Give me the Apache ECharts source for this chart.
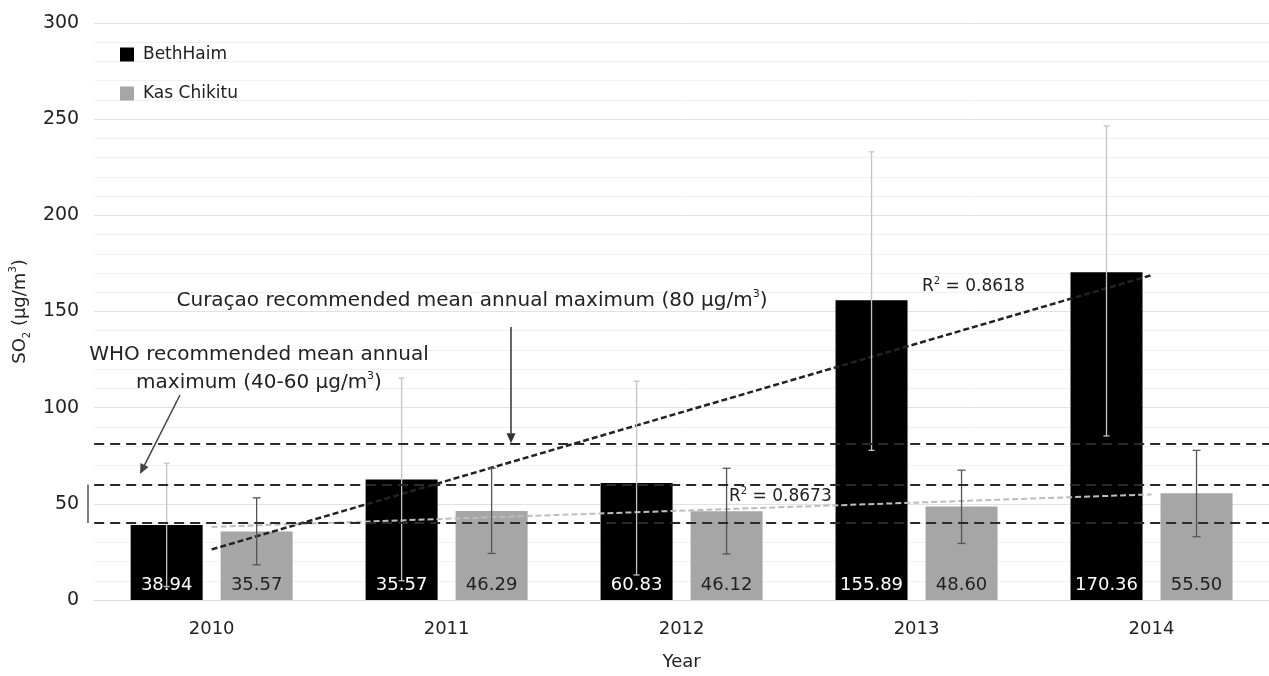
<!DOCTYPE html>
<html>
<head>
<meta charset="utf-8">
<script src="https://cdn.jsdelivr.net/npm/echarts@6/dist/echarts.min.js"></script>
<style>
  html, body { margin: 0; padding: 0; background: #fff; }
  #main { width: 1269px; height: 676px; }
</style>
</head>
<body>
<div id="main"></div>
<script>
// data
var years = ['2010', '2011', '2012', '2013', '2014'];
var bethHaim = [38.94, 62.7, 60.83, 155.89, 170.36];
var kasChikitu = [35.57, 46.29, 46.12, 48.60, 55.50];
// labels as printed on the bars (2011 label differs from bar height in the original)
var bethLabels = ['38.94', '35.57', '60.83', '155.89', '170.36'];
var kasLabels = ['35.57', '46.29', '46.12', '48.60', '55.50'];
// error bars [low, high]
var bethErr = [[7, 71.1], [10, 115.4], [13, 113.8], [77.8, 233], [85.3, 246.5]];
var kasErr = [[18.3, 53.1], [24.2, 68.5], [23.9, 68.5], [29.4, 67.5], [32.9, 77.8]];
// trend line ends (2010 -> 2014)
var bethTrend = [26.3, 168.9];
var kasTrend = [38.0, 54.9];
var limits = [40, 60, 81];

var FONT = "'DejaVu Sans', 'Liberation Sans', sans-serif";
var chart = echarts.init(document.getElementById('main'));

function errorSeries(name, err, off, color, cap) {
  return {
    type: 'custom',
    name: name,
    z: 4,
    silent: true,
    data: err.map(function (e, i) { return [i, e[0], e[1]]; }),
    encode: { x: 0, y: [1, 2] },
    renderItem: function (params, api) {
      var lo = api.coord([api.value(0), api.value(1)]);
      var hi = api.coord([api.value(0), api.value(2)]);
      var x = lo[0] + off;
      var st = { stroke: color, lineWidth: 1.3 };
      return {
        type: 'group',
        children: [
          { type: 'line', shape: { x1: x, y1: lo[1], x2: x, y2: hi[1] }, style: st },
          { type: 'line', shape: { x1: x - cap, y1: lo[1], x2: x + cap, y2: lo[1] }, style: st },
          { type: 'line', shape: { x1: x - cap, y1: hi[1], x2: x + cap, y2: hi[1] }, style: st }
        ]
      };
    }
  };
}

var option = {
  animation: false,
  backgroundColor: '#fff',
  textStyle: { fontFamily: FONT },
  grid: { left: 90, right: 0, top: 23, bottom: 76 },
  legend: {
    orient: 'vertical',
    left: 115,
    top: 41,
    icon: 'rect',
    itemWidth: 14,
    itemHeight: 14,
    itemGap: 22,
    data: ['BethHaim', 'Kas Chikitu'],
    textStyle: { fontSize: 17, color: '#222', fontFamily: FONT, padding: [0, 0, 0, 4] }
  },
  xAxis: {
    type: 'category',
    data: years,
    axisTick: { show: false },
    axisLine: { lineStyle: { color: '#dcdcdc', width: 1 } },
    axisLabel: { fontSize: 18, color: '#222', margin: 20, fontFamily: FONT },
    name: 'Year',
    nameLocation: 'middle',
    nameGap: 53,
    nameTextStyle: { fontSize: 18, color: '#222', fontFamily: FONT }
  },
  yAxis: {
    type: 'value',
    min: 0,
    max: 300,
    interval: 50,
    axisLine: { show: false },
    axisTick: { show: false },
    axisLabel: { fontSize: 19, color: '#222', margin: 15, fontFamily: FONT },
    splitLine: { lineStyle: { color: '#e2e2e2', width: 1 } },
    minorTick: { show: false, splitNumber: 5 },
    minorSplitLine: { show: true, lineStyle: { color: '#f1f1f1', width: 1 } },
    name: '{a|SO}{s|2}{a| (µg/m}{p|3}{a|)}',
    nameLocation: 'middle',
    nameGap: 60,
    nameTextStyle: {
      fontFamily: FONT,
      rich: {
        a: { fontSize: 18, color: '#222', fontFamily: FONT, lineHeight: 24 },
        s: { fontSize: 10, color: '#222', fontFamily: FONT, verticalAlign: 'bottom', lineHeight: 12 },
        p: { fontSize: 10, color: '#222', fontFamily: FONT, verticalAlign: 'top', lineHeight: 12 }
      }
    }
  },
  series: [
    {
      type: 'line',
      name: 'limits',
      data: [],
      z: 1,
      silent: true,
      markLine: {
        symbol: 'none',
        silent: true,
        label: { show: false },
        lineStyle: { color: '#2a2a2a', width: 2, type: [10, 6] },
        data: limits.map(function (v) { return { yAxis: v }; })
      }
    },
    {
      type: 'bar',
      name: 'BethHaim',
      data: bethHaim,
      barWidth: 72,
      barGap: '25%',
      z: 2,
      itemStyle: { color: '#000' },
      label: {
        show: true,
        position: 'insideBottom',
        distance: 6,
        color: '#fff',
        fontSize: 18,
        fontFamily: FONT,
        formatter: function (p) { return bethLabels[p.dataIndex]; }
      }
    },
    {
      type: 'bar',
      name: 'Kas Chikitu',
      data: kasChikitu,
      barWidth: 72,
      z: 2,
      itemStyle: { color: '#a6a6a6' },
      label: {
        show: true,
        position: 'insideBottom',
        distance: 6,
        color: '#222',
        fontSize: 18,
        fontFamily: FONT,
        formatter: function (p) { return kasLabels[p.dataIndex]; }
      }
    },
    {
      type: 'line',
      name: 'trendBeth',
      z: 3,
      silent: true,
      symbol: 'none',
      data: [[years[0], bethTrend[0]], [years[4], bethTrend[1]]],
      lineStyle: { color: '#222', width: 2.5, type: [6, 3] }
    },
    {
      type: 'line',
      name: 'trendKas',
      z: 3,
      silent: true,
      symbol: 'none',
      data: [[years[0], kasTrend[0]], [years[4], kasTrend[1]]],
      lineStyle: { color: '#bdbdbd', width: 2, type: [6, 3] }
    },
    errorSeries('errBeth', bethErr, -45, '#c4c4c4', 3),
    errorSeries('errKas', kasErr, 45, '#555', 4)
  ]
};

chart.setOption(option);

// annotations
function arrow(x1, y1, x2, y2, color) {
  var ang = Math.atan2(y2 - y1, x2 - x1);
  var len = 10, w = 4.5;
  var bx = x2 - len * Math.cos(ang), by = y2 - len * Math.sin(ang);
  var px = -Math.sin(ang) * w, py = Math.cos(ang) * w;
  return [
    { type: 'line', shape: { x1: x1, y1: y1, x2: bx, y2: by }, style: { stroke: color, lineWidth: 1.5 }, z: 10 },
    { type: 'polygon', shape: { points: [[x2, y2], [bx + px, by + py], [bx - px, by - py]] }, style: { fill: color }, z: 10 }
  ];
}

var richTxt = {
  a: { fontSize: 20, fill: '#222', fontFamily: FONT, lineHeight: 24 },
  p: { fontSize: 11, fill: '#222', fontFamily: FONT, verticalAlign: 'top', lineHeight: 12 }
};
var richR = {
  a: { fontSize: 17, fill: '#222', fontFamily: FONT, lineHeight: 22 },
  p: { fontSize: 10, fill: '#222', fontFamily: FONT, verticalAlign: 'top', lineHeight: 12 }
};

var y40 = chart.convertToPixel({ yAxisIndex: 0 }, limits[0]);
var y60 = chart.convertToPixel({ yAxisIndex: 0 }, limits[1]);
var y80 = chart.convertToPixel({ yAxisIndex: 0 }, limits[2]);

var gfx = [
  { type: 'text', x: 472, y: 301, z: 10, style: { text: '{a|Curaçao recommended mean annual maximum (80 µg/m}{p|3}{a|)}', rich: richTxt, align: 'center', verticalAlign: 'middle' } },
  { type: 'text', x: 259, y: 355, z: 10, style: { text: '{a|WHO recommended mean annual}', rich: richTxt, align: 'center', verticalAlign: 'middle' } },
  { type: 'text', x: 259, y: 383, z: 10, style: { text: '{a|maximum (40-60 µg/m}{p|3}{a|)}', rich: richTxt, align: 'center', verticalAlign: 'middle' } },
  { type: 'text', x: 922, y: 287, z: 10, style: { text: '{a|R}{p|2}{a| = 0.8618}', rich: richR, align: 'left', verticalAlign: 'middle' } },
  { type: 'text', x: 729, y: 497, z: 10, style: { text: '{a|R}{p|2}{a| = 0.8673}', rich: richR, align: 'left', verticalAlign: 'middle' } },
  { type: 'line', z: 10, shape: { x1: 88, y1: y60, x2: 88, y2: y40 }, style: { stroke: '#555', lineWidth: 1.5 } }
];
gfx = gfx.concat(arrow(511, 327, 511, y80 - 1, '#333'));
gfx = gfx.concat(arrow(180, 395, 140, 474, '#444'));

chart.setOption({ graphic: gfx });
</script>
</body>
</html>
